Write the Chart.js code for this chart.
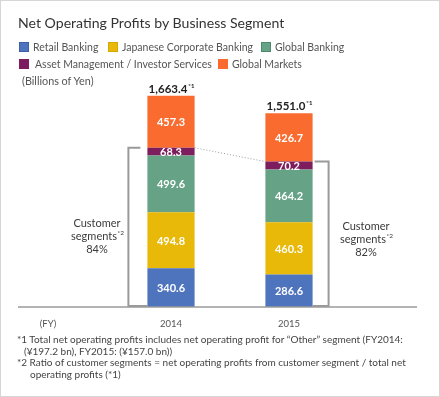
<!DOCTYPE html>
<html>
<head>
<meta charset="utf-8">
<script src="https://cdn.jsdelivr.net/npm/chart.js@4"></script>
<style>
  body { margin: 0; font-family: Lato, sans-serif; }
  #wrap { position: relative; width: 440px; height: 397px; box-sizing: border-box; border: 1px solid #d6d6d6; background: #fff; overflow: hidden; }
  #c { position: absolute; left: -1px; top: -1px; }
  .t { position: absolute; white-space: nowrap; }
  #title { left: 17px; top: 13px; font-size: 14.1px; color: #333; }
  .lg { position: absolute; font-size: 10.5px; color: #555; white-space: nowrap; line-height: 12px; }
  .lg i { display: inline-block; width: 10px; height: 10px; vertical-align: -1px; margin-right: 4px; box-sizing: border-box; }
  #unit { left: 21px; top: 73px; font-size: 10.8px; color: #555; }
  #notes { left: 16px; top: 333px; font-size: 10px; color: #444; line-height: 11.7px; }
  #notes div.i1 { padding-left: 7px; }
  #notes div.i2 { padding-left: 13px; }
</style>
</head>
<body>
<div id="wrap">
  <canvas id="c" width="440" height="397"></canvas>
  <div class="t" id="title">Net Operating Profits by Business Segment</div>
  <div class="lg" style="left:18px;top:40px"><i style="background:#4f74be;border:1px solid #3e5fa3"></i>Retail Banking</div>
  <div class="lg" style="left:107px;top:40px"><i style="background:#e9b90a;border:1px solid #d6a800"></i>Japanese Corporate Banking</div>
  <div class="lg" style="left:260px;top:40px"><i style="background:#66a286;border:1px solid #4f8a6e"></i>Global Banking</div>
  <div class="lg" style="left:18px;top:57px"><i style="background:#7e1d5e;margin-right:6px"></i>Asset Management / Investor Services</div>
  <div class="lg" style="left:217px;top:57px"><i style="background:#f96b2e"></i>Global Markets</div>
  <div class="t" id="unit">(Billions of Yen)</div>
  <div class="t" id="notes">
    <div>*1 Total net operating profits includes net operating profit for “Other” segment (FY2014:</div>
    <div class="i1">(¥197.2 bn), FY2015: (¥157.0 bn))</div>
    <div>*2 Ratio of customer segments = net operating profits from customer segment / total net</div>
    <div class="i2">operating profits (*1)</div>
  </div>
</div>
<script>
const years = ['2014', '2015'];
const retail = [340.6, 286.6];
const japanCorp = [494.8, 460.3];
const globalBanking = [499.6, 464.2];
const assetMgmt = [68.3, 70.2];
const globalMarkets = [457.3, 426.7];
const totals = [1663.4, 1551.0];
const customerShare = [84, 82];

const segColors = ['#4f74be', '#e9b90a', '#66a286', '#7e1d5e', '#f96b2e'];
const FONT = 'Lato';

// extra drawing: labels, totals, brackets, axis line
const extras = {
  id: 'extras',
  afterDatasetsDraw(chart) {
    const ctx = chart.ctx;
    const area = chart.chartArea;
    ctx.save();

    // segment value labels
    chart.data.datasets.forEach((ds, i) => {
      chart.getDatasetMeta(i).data.forEach((bar, j) => {
        ctx.font = 'bold 11px ' + FONT;
        ctx.fillStyle = '#fff';
        ctx.textAlign = 'center';
        ctx.textBaseline = 'middle';
        ctx.fillText(ds.data[j].toFixed(1), bar.x, (bar.y + bar.base) / 2 + 1);
      });
    });

    const topMeta = chart.getDatasetMeta(4);
    const amMeta = chart.getDatasetMeta(3);

    // totals above bars
    topMeta.data.forEach((bar, j) => {
      const txt = totals[j].toLocaleString('en-US', {minimumFractionDigits: 1});
      ctx.font = 'bold 11.5px ' + FONT;
      const w = ctx.measureText(txt).width;
      ctx.font = 'bold 6px ' + FONT;
      const w2 = ctx.measureText('*1').width;
      const x0 = bar.x - (w + w2) / 2;
      ctx.fillStyle = '#222';
      ctx.textAlign = 'left';
      ctx.textBaseline = 'alphabetic';
      ctx.font = 'bold 11.5px ' + FONT;
      ctx.fillText(txt, x0, bar.y - 3);
      ctx.font = 'bold 6px ' + FONT;
      ctx.fillText('*1', x0 + w + 1, bar.y - 8);
    });

    // dotted line between the customer segment tops
    const a = amMeta.data[0], b = amMeta.data[1];
    ctx.strokeStyle = '#999';
    ctx.lineWidth = 1;
    ctx.setLineDash([1, 2]);
    ctx.beginPath();
    ctx.moveTo(a.x + a.width / 2, a.y);
    ctx.lineTo(b.x - b.width / 2, b.y);
    ctx.stroke();
    ctx.setLineDash([]);

    // brackets
    ctx.strokeStyle = '#9a9a9a';
    ctx.lineWidth = 2;
    const bx0 = a.x - a.width / 2 - 19;
    ctx.beginPath();
    ctx.moveTo(a.x - a.width / 2 - 7, a.y);
    ctx.lineTo(bx0, a.y);
    ctx.lineTo(bx0, area.bottom - 1);
    ctx.lineTo(a.x - a.width / 2, area.bottom - 1);
    ctx.stroke();
    const bx1 = b.x + b.width / 2 + 16;
    ctx.beginPath();
    ctx.moveTo(b.x + b.width / 2 + 2, b.y);
    ctx.lineTo(bx1, b.y);
    ctx.lineTo(bx1, area.bottom - 1);
    ctx.lineTo(b.x + b.width / 2, area.bottom - 1);
    ctx.stroke();

    // customer segment text
    const seg = (cx, cy, pct) => {
      ctx.fillStyle = '#3a3a3a';
      ctx.textBaseline = 'middle';
      ctx.textAlign = 'center';
      ctx.font = '11px ' + FONT;
      ctx.fillText('Customer', cx, cy);
      const w = ctx.measureText('segments').width;
      ctx.fillText('segments', cx - 3, cy + 13);
      ctx.font = '6.5px ' + FONT;
      ctx.textAlign = 'left';
      ctx.fillText('*2', cx - 3 + w / 2 + 0.5, cy + 10);
      ctx.font = '11px ' + FONT;
      ctx.textAlign = 'center';
      ctx.fillText(pct + '%', cx, cy + 26);
    };
    seg(97, 223, customerShare[0]);
    seg(366, 226, customerShare[1]);

    // base axis line
    ctx.strokeStyle = '#9a9a9a';
    ctx.lineWidth = 1.5;
    ctx.beginPath();
    ctx.moveTo(18, area.bottom);
    ctx.lineTo(417, area.bottom);
    ctx.stroke();

    ctx.fillStyle = '#555';
    ctx.font = '9.5px ' + FONT;
    ctx.textAlign = 'center';
    ctx.textBaseline = 'middle';
    ctx.fillText('(FY)', 48, area.bottom + 17);
    ctx.restore();
  }
};

const names = ['Retail Banking', 'Japanese Corporate Banking', 'Global Banking', 'Asset Management / Investor Services', 'Global Markets'];
const series = [retail, japanCorp, globalBanking, assetMgmt, globalMarkets];

new Chart(document.getElementById('c'), {
  type: 'bar',
  data: {
    labels: years,
    datasets: series.map((s, i) => ({
      label: names[i],
      data: s,
      backgroundColor: segColors[i],
      borderWidth: 0,
      categoryPercentage: 1,
      barPercentage: 0.4
    }))
  },
  options: {
    responsive: false,
    animation: false,
    events: [],
    layout: { padding: { left: 112, right: 92, top: 80, bottom: 60 } },
    plugins: { legend: { display: false }, tooltip: { enabled: false } },
    scales: {
      x: {
        stacked: true,
        grid: { display: false, drawTicks: false },
        border: { display: false },
        ticks: { color: '#555', font: { family: FONT, size: 9.5 }, padding: 11 },
        afterFit: s => { s.height = 30; }
      },
      y: {
        stacked: true,
        display: false,
        min: 0,
        max: 2000
      }
    }
  },
  plugins: [extras]
});
</script>
</body>
</html>
